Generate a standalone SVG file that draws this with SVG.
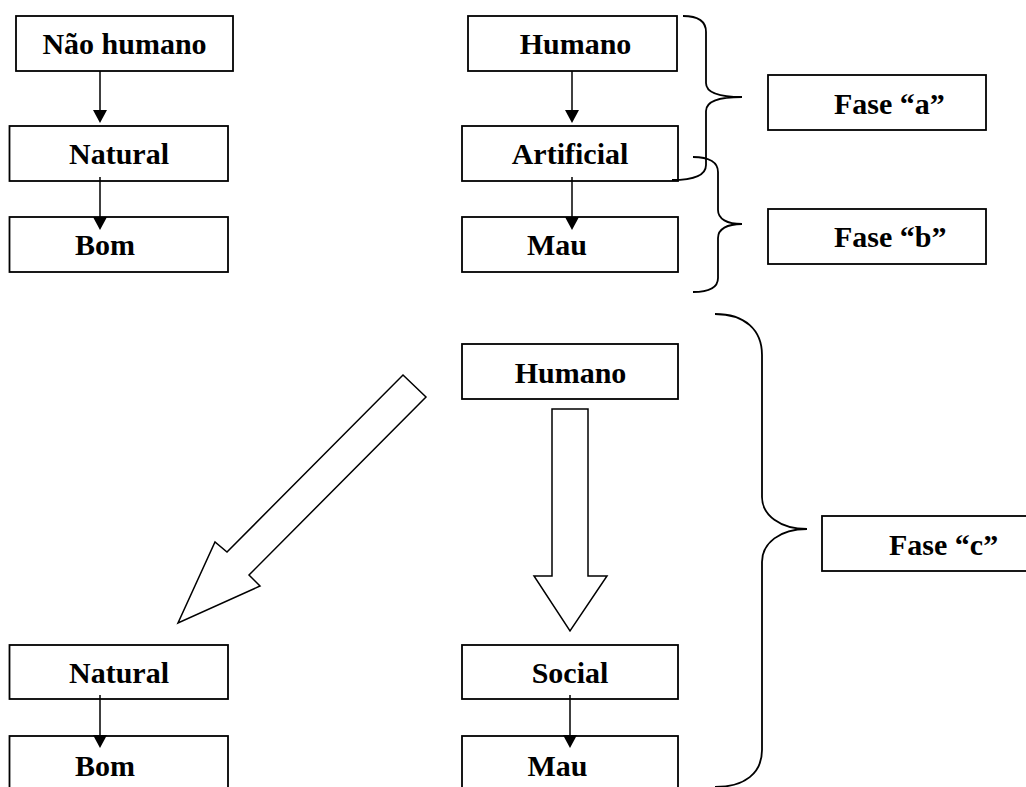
<svg xmlns="http://www.w3.org/2000/svg" width="1026" height="787" viewBox="0 0 1026 787">
<defs>
<style>
.box{fill:#fff;stroke:#000;stroke-width:1.8}
.t{font-family:"Liberation Serif","Times New Roman",serif;font-weight:bold;font-size:30px;fill:#000}
.ln{stroke:#000;stroke-width:1.5;fill:none}
.br{stroke:#000;stroke-width:1.8;fill:none}
.blk{fill:#fff;stroke:#000;stroke-width:1.5;stroke-linejoin:miter}
</style>
</defs>
<rect width="1026" height="787" fill="#fff"/>

<g id="connectors">
<line class="ln" x1="100" y1="71" x2="100" y2="110"/><path d="M93 110 L107 110 L100 123 Z"/>
<line class="ln" x1="572" y1="71" x2="572" y2="110"/><path d="M565 110 L579 110 L572 123 Z"/>
</g>

<g id="n-naohumano"><rect class="box" x="16" y="16" width="217" height="55"/><text class="t" x="124.5" y="54" text-anchor="middle">Não humano</text></g>
<g id="n-natural1"><rect class="box" x="9.5" y="126" width="218.5" height="55"/><text class="t" x="119" y="164" text-anchor="middle">Natural</text></g>
<g id="n-bom1"><rect class="box" x="9.5" y="217" width="218.5" height="55"/><text class="t" x="105" y="255" text-anchor="middle">Bom</text></g>

<g id="n-humano1"><rect class="box" x="468" y="16" width="209" height="55"/><text class="t" x="575.5" y="54" text-anchor="middle">Humano</text></g>
<g id="n-artificial"><rect class="box" x="462" y="126" width="216" height="55"/><text class="t" x="570" y="164" text-anchor="middle">Artificial</text></g>
<g id="n-mau1"><rect class="box" x="462" y="217" width="216" height="55"/><text class="t" x="557" y="255" text-anchor="middle">Mau</text></g>

<g id="n-fasea"><rect class="box" x="768" y="75" width="218" height="55"/><text class="t" x="834" y="114">Fase “a”</text></g>
<g id="n-faseb"><rect class="box" x="768" y="209" width="218" height="55"/><text class="t" x="834" y="247">Fase “b”</text></g>

<g id="n-humano2"><rect class="box" x="462" y="344" width="216" height="55"/><text class="t" x="570.5" y="383" text-anchor="middle">Humano</text></g>
<g id="n-natural2"><rect class="box" x="9.5" y="645" width="218.5" height="54"/><text class="t" x="119" y="683" text-anchor="middle">Natural</text></g>
<g id="n-bom2"><rect class="box" x="9.5" y="736" width="218.5" height="60"/><text class="t" x="105" y="776" text-anchor="middle">Bom</text></g>
<g id="n-social"><rect class="box" x="462" y="645" width="216" height="54"/><text class="t" x="570" y="683" text-anchor="middle">Social</text></g>
<g id="n-mau2"><rect class="box" x="462" y="736" width="216" height="60"/><text class="t" x="557.5" y="776" text-anchor="middle">Mau</text></g>
<g id="n-fasec"><rect class="box" x="822" y="516" width="220" height="55"/><text class="t" x="889" y="555">Fase “c”</text></g>

<g id="connectors2">
<line class="ln" x1="100" y1="177" x2="100" y2="217"/><path d="M93 217 L107 217 L100 230 Z"/>
<line class="ln" x1="572" y1="177" x2="572" y2="217"/><path d="M565 217 L579 217 L572 230 Z"/>
<line class="ln" x1="100" y1="695" x2="100" y2="736"/><path d="M93 735 L107 735 L100 748 Z"/>
<line class="ln" x1="570" y1="695" x2="570" y2="736"/><path d="M563 735 L577 735 L570 748 Z"/>
<polygon class="blk" points="403,375 426,397 249,575 260,586 178,623 215,542 227,552"/>
<polygon class="blk" points="552,409 588,409 588,576 607,576 570,631 534,576 552,576"/>
<path class="br" d="M683 16 C700 16 706 22 706 32 L706 83 C706 92 716 97 742 97 C716 97 706 102 706 111 L706 165 C706 175 695 180 672 180"/>
<path class="br" d="M693 157 C710 157 718 163 718 172 L718 210 C718 219 727 224 742 224 C727 224 718 229 718 238 L718 278 C718 287 710 292 693 292"/>
<path class="br" d="M715 314 C745 314 762 330 762 355 L762 497 C762 515 780 529 807 529 C780 529 762 543 762 562 L762 750 C762 773 745 787 715 787"/>
</g>
</svg>
